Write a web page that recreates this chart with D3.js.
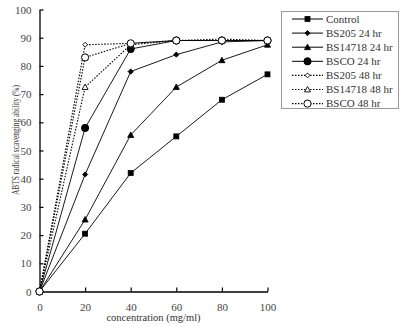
<!DOCTYPE html>
<html><head><meta charset="utf-8">
<script src="https://cdn.jsdelivr.net/npm/d3@7"></script>
<style>body{margin:0;background:#fff}svg{display:block}</style>
</head><body>
<svg id="c" width="401" height="327"></svg>
<script>
const conc = [0, 20, 40, 60, 80, 100];
const xTicks = [0, 20, 40, 60, 80, 100];
const yTicks = [0, 10, 20, 30, 40, 50, 60, 70, 80, 90, 100];
const seriesNames = ["Control","BS205 24 hr","BS14718 24 hr","BSCO 24 hr","BS205 48 hr","BS14718 48 hr","BSCO 48 hr"];
const control   = [0, 20.5, 42, 55, 68, 77];
const bs205_24  = [0, 41.5, 78, 84, 88.5, 89];
const bs14718_24= [0, 25.5, 55.5, 72.5, 82, 87.5];
const bsco_24   = [0, 58, 86, 89, 89, 89];
const bs205_48  = [0, 87.5, 88, 89, 89.5, 89];
const bs14718_48= [0, 72.5, 87.5, 89, 89, 89];
const bsco_48   = [0, 83, 88, 89, 89, 89];
const values = [control, bs205_24, bs14718_24, bsco_24, bs205_48, bs14718_48, bsco_48];
const markers = ["square","diamond","triangle","circle","diamond","triangle","circle"];
const filled = [true,true,true,true,false,false,false];
const dashed = [false,false,false,false,true,true,true];

const FONT = "'Liberation Serif', 'DejaVu Serif', serif";
const svg = d3.select("#c");
const x = d3.scaleLinear().domain([0,100]).range([39.5, 267.5]);
const y = d3.scaleLinear().domain([0,100]).range([291.5, 9.5]);

// axes
const ax = svg.append("g").attr("transform","translate(0,291.5)")
  .call(d3.axisBottom(x).tickValues(xTicks).tickSizeInner(-4).tickSizeOuter(0).tickPadding(12));
const ay = svg.append("g").attr("transform","translate(39.5,0)")
  .call(d3.axisLeft(y).tickValues(yTicks).tickSizeInner(-4).tickSizeOuter(0).tickPadding(8));
[ax,ay].forEach(a=>{
  a.attr("font-family", FONT);
  a.select(".domain").attr("stroke","#000").attr("stroke-width",1.3);
  a.selectAll(".tick line").attr("stroke","#000").attr("stroke-width",1.2);
  a.selectAll(".tick text").style("font-family", FONT).style("font-size","11px").attr("fill","#444");
});

svg.append("text").attr("x",(x(0)+x(100))/2).attr("y",321).attr("text-anchor","middle")
  .style("font-family", FONT).style("font-size","10.5px").attr("fill","#333").text("concentration (mg/ml)");
svg.append("text").attr("transform","translate(18.5,140) rotate(-90)").attr("text-anchor","middle")
  .attr("textLength",110).attr("lengthAdjust","spacingAndGlyphs")
  .style("font-family", FONT).style("font-size","10px").attr("fill","#333").text("ABTS radical scavenging ability (%)");

function drawMarker(g, type, isFilled, cx, cy){
  const fill = isFilled ? "#000" : "#fff";
  if(type==="square"){
    g.append("rect").attr("x",cx-2.5).attr("y",cy-2.5).attr("width",5).attr("height",5).attr("fill",fill).attr("stroke","#000").attr("stroke-width",0.8);
  } else if(type==="diamond"){
    const s = isFilled?2.6:2.4;
    g.append("path").attr("d",`M${cx},${cy-s}L${cx+s},${cy}L${cx},${cy+s}L${cx-s},${cy}Z`).attr("fill",fill).attr("stroke","#000").attr("stroke-width",0.9);
  } else if(type==="triangle"){
    const s = 3;
    g.append("path").attr("d",`M${cx},${cy-s}L${cx+s},${cy+s*0.8}L${cx-s},${cy+s*0.8}Z`).attr("fill",fill).attr("stroke","#000").attr("stroke-width",0.9);
  } else {
    g.append("circle").attr("cx",cx).attr("cy",cy).attr("r",3.6).attr("fill",fill).attr("stroke","#000").attr("stroke-width",1);
  }
}

const line = d3.line().x((d,i)=>x(conc[i])).y(d=>y(d));
values.forEach((vals,k)=>{
  svg.append("path").datum(vals).attr("d",line).attr("fill","none").attr("stroke","#000")
    .attr("stroke-width", dashed[k]?1.1:0.9).attr("stroke-dasharray", dashed[k]?"1.5,1.5":null);
});
values.forEach((vals,k)=>{
  const g = svg.append("g");
  vals.forEach((v,i)=>drawMarker(g, markers[k], filled[k], x(conc[i]), y(v)));
});

// legend
const lg = svg.append("g");
lg.append("rect").attr("x",281.5).attr("y",11.5).attr("width",117).attr("height",97).attr("fill","#fff").attr("stroke","#999").attr("stroke-width",1);
seriesNames.forEach((n,k)=>{
  const ly = 19 + k*14.1;
  lg.append("line").attr("x1",292).attr("x2",323).attr("y1",ly).attr("y2",ly).attr("stroke","#000")
    .attr("stroke-width",dashed[k]?1.1:1).attr("stroke-dasharray",dashed[k]?"1.5,1.5":null);
  drawMarker(lg, markers[k], filled[k], 307.5, ly);
  lg.append("text").attr("x",326).attr("y",ly+3.5).style("font-family", FONT).style("font-size","11px").attr("fill","#333").text(n);
});
</script>
</body></html>
